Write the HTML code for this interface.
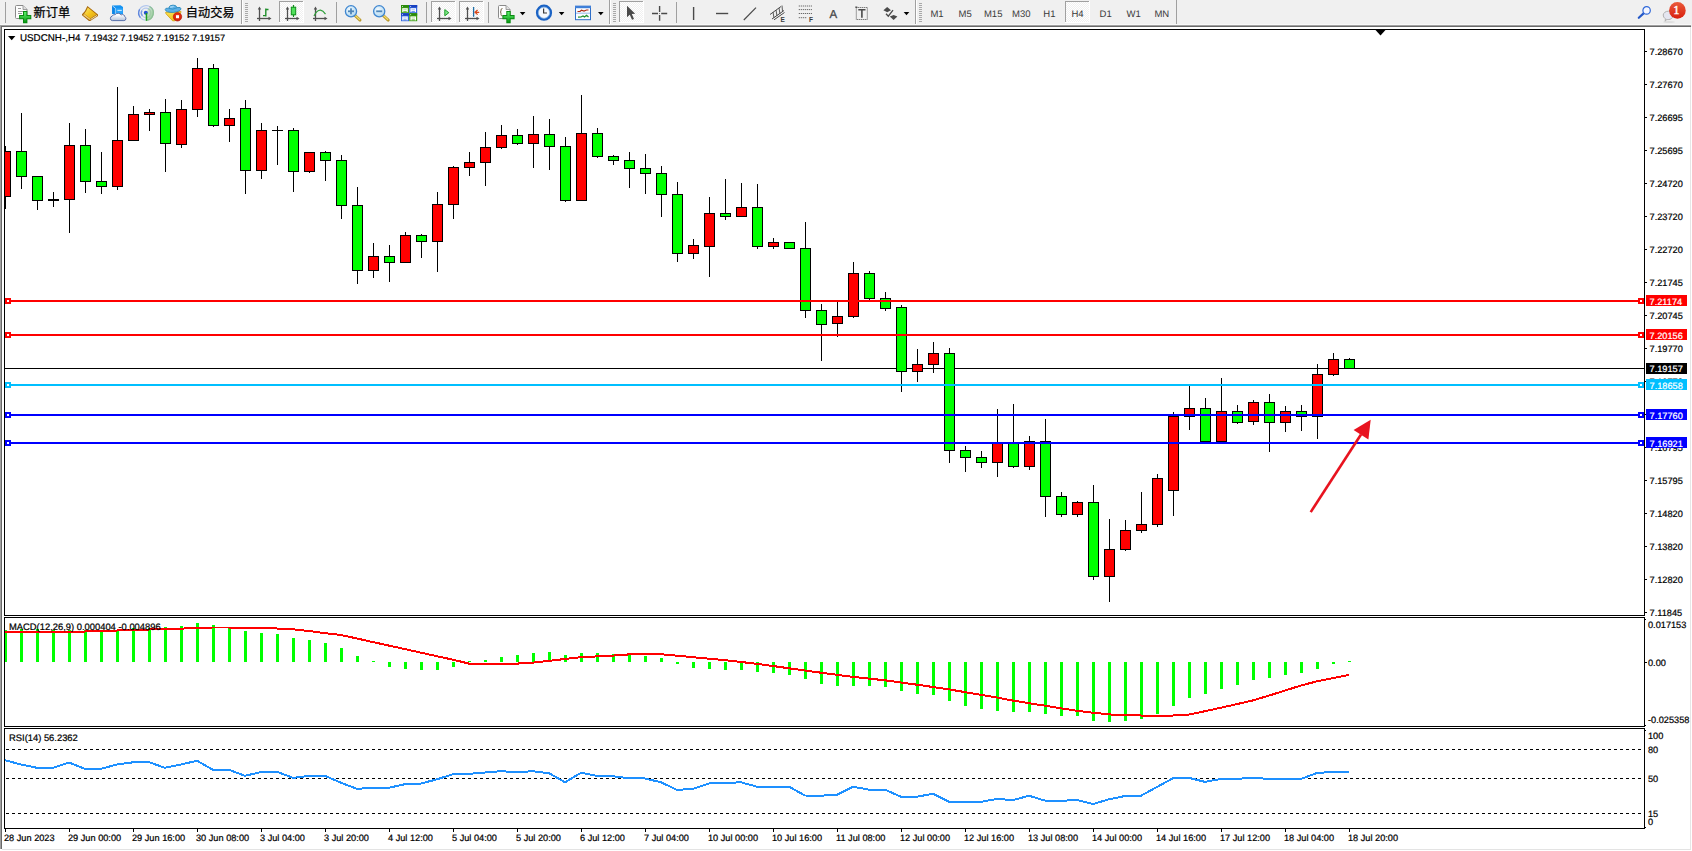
<!DOCTYPE html>
<html><head><meta charset="utf-8"><title>USDCNH H4</title>
<style>
html,body{margin:0;padding:0;background:#fff;}
body{width:1692px;height:851px;overflow:hidden;position:relative;font-family:"Liberation Sans","Noto Sans CJK SC",sans-serif;}
svg{position:absolute;left:0;top:0;}
.t{stroke:#000;stroke-width:0.22px;font-family:"Liberation Sans","Noto Sans CJK SC",sans-serif;font-size:9.8px;text-rendering:geometricPrecision;fill:#000;}
.tw{font-family:"Liberation Sans","Noto Sans CJK SC",sans-serif;font-size:9.8px;text-rendering:geometricPrecision;fill:#fff;}
.tf{font-family:"Liberation Sans","Noto Sans CJK SC",sans-serif;font-size:9.5px;text-rendering:geometricPrecision;fill:#3a3a3a;}
.ax{stroke:#000;stroke-width:0.22px;font-family:"Liberation Sans",sans-serif;font-size:9.2px;text-rendering:geometricPrecision;fill:#000;}
.axw{stroke:#fff;stroke-width:0.22px;font-family:"Liberation Sans",sans-serif;font-size:9.2px;text-rendering:geometricPrecision;fill:#fff;}
.tt{stroke:#000;stroke-width:0.22px;font-family:"Liberation Sans",sans-serif;font-size:9.4px;text-rendering:geometricPrecision;fill:#000;}
.cj{font-family:"Noto Sans CJK SC","WenQuanYi Zen Hei",sans-serif;font-size:12.2px;fill:#000;stroke:#000;stroke-width:0.25px;}
</style></head><body>

<svg width="1692" height="851" viewBox="0 0 1692 851">
<defs><pattern id="chk" width="2" height="2" patternUnits="userSpaceOnUse"><rect width="2" height="2" fill="#f0f0f0"/><rect width="1" height="1" fill="#fff"/><rect x="1" y="1" width="1" height="1" fill="#fff"/></pattern><linearGradient id="gold" x1="0" y1="0" x2="1" y2="1"><stop offset="0" stop-color="#fde870"/><stop offset="0.5" stop-color="#f4c41c"/><stop offset="1" stop-color="#dca010"/></linearGradient><linearGradient id="grn" x1="0" y1="0" x2="0" y2="1"><stop offset="0" stop-color="#5cf06a"/><stop offset="1" stop-color="#0a9a14"/></linearGradient><linearGradient id="badge" x1="0" y1="0" x2="0" y2="1"><stop offset="0" stop-color="#ea5a3a"/><stop offset="1" stop-color="#d81e0c"/></linearGradient><radialGradient id="lens" cx="0.4" cy="0.35" r="0.7"><stop offset="0" stop-color="#f4fbff"/><stop offset="1" stop-color="#a8d4f0"/></radialGradient><linearGradient id="cloud" x1="0" y1="0" x2="0" y2="1"><stop offset="0.2" stop-color="#ffffff"/><stop offset="1" stop-color="#b4c2d8"/></linearGradient><linearGradient id="sigg" x1="0" y1="0" x2="1" y2="1"><stop offset="0" stop-color="#e4f0e0"/><stop offset="1" stop-color="#3fa84a"/></linearGradient><linearGradient id="face" x1="0" y1="0" x2="0.3" y2="1"><stop offset="0" stop-color="#fbe458"/><stop offset="1" stop-color="#eec21c"/></linearGradient><radialGradient id="stop" cx="0.5" cy="0.4" r="0.6"><stop offset="0" stop-color="#f8401c"/><stop offset="1" stop-color="#cc1c08"/></radialGradient></defs>
<g shape-rendering="crispEdges">
<rect x="0" y="0" width="1692" height="851" fill="#fff" />
<rect x="0" y="0" width="1692" height="24" fill="#f0f0f0" />
<rect x="0" y="24" width="1692" height="1" fill="#f8f8f8" />
<rect x="0" y="25" width="1691" height="1" fill="#a0a0a0" />
<rect x="0" y="26" width="1691" height="1" fill="#696969" />
<rect x="1690" y="27" width="1" height="822" fill="#e6e6e6" />
<rect x="1691" y="0" width="1" height="27" fill="#f0f0f0" />
<rect x="1691" y="27" width="1" height="824" fill="#fff" />
<rect x="2" y="849" width="1689" height="1" fill="#e3e3e3" />
<rect x="0" y="850" width="1692" height="1" fill="#fff" />
<rect x="4" y="29" width="1641" height="1" fill="#000" />
<rect x="4" y="615" width="1641" height="1" fill="#000" />
<rect x="4" y="29" width="1" height="587" fill="#000" />
<rect x="1644" y="29" width="1" height="587" fill="#000" />
<rect x="4" y="617" width="1641" height="1" fill="#000" />
<rect x="4" y="726" width="1641" height="1" fill="#000" />
<rect x="4" y="617" width="1" height="110" fill="#000" />
<rect x="1644" y="617" width="1" height="110" fill="#000" />
<rect x="4" y="728" width="1641" height="1" fill="#000" />
<rect x="4" y="828" width="1641" height="1" fill="#000" />
<rect x="4" y="728" width="1" height="101" fill="#000" />
<rect x="1644" y="728" width="1" height="101" fill="#000" />
<rect x="5" y="368" width="1639" height="1" fill="#000" />
<rect x="5" y="146" width="1" height="63" fill="#000" />
<rect x="0" y="151" width="11" height="46" fill="#000" />
<rect x="1" y="152" width="9" height="44" fill="#ff0000" />
<rect x="21" y="113" width="1" height="76" fill="#000" />
<rect x="16" y="151" width="11" height="26" fill="#000" />
<rect x="17" y="152" width="9" height="24" fill="#00ff00" />
<rect x="37" y="176" width="1" height="34" fill="#000" />
<rect x="32" y="176" width="11" height="25" fill="#000" />
<rect x="33" y="177" width="9" height="23" fill="#00ff00" />
<rect x="53" y="192" width="1" height="15" fill="#000" />
<rect x="48" y="199" width="11" height="2" fill="#000" />
<rect x="69" y="123" width="1" height="110" fill="#000" />
<rect x="64" y="145" width="11" height="55" fill="#000" />
<rect x="65" y="146" width="9" height="53" fill="#ff0000" />
<rect x="85" y="129" width="1" height="64" fill="#000" />
<rect x="80" y="145" width="11" height="37" fill="#000" />
<rect x="81" y="146" width="9" height="35" fill="#00ff00" />
<rect x="101" y="152" width="1" height="42" fill="#000" />
<rect x="96" y="181" width="11" height="6" fill="#000" />
<rect x="97" y="182" width="9" height="4" fill="#00ff00" />
<rect x="117" y="87" width="1" height="103" fill="#000" />
<rect x="112" y="140" width="11" height="47" fill="#000" />
<rect x="113" y="141" width="9" height="45" fill="#ff0000" />
<rect x="133" y="106" width="1" height="35" fill="#000" />
<rect x="128" y="114" width="11" height="27" fill="#000" />
<rect x="129" y="115" width="9" height="25" fill="#ff0000" />
<rect x="149" y="109" width="1" height="22" fill="#000" />
<rect x="144" y="112" width="11" height="3" fill="#000" />
<rect x="145" y="113" width="9" height="1" fill="#ff0000" />
<rect x="165" y="99" width="1" height="73" fill="#000" />
<rect x="160" y="112" width="11" height="32" fill="#000" />
<rect x="161" y="113" width="9" height="30" fill="#00ff00" />
<rect x="181" y="100" width="1" height="48" fill="#000" />
<rect x="176" y="109" width="11" height="36" fill="#000" />
<rect x="177" y="110" width="9" height="34" fill="#ff0000" />
<rect x="197" y="58" width="1" height="59" fill="#000" />
<rect x="192" y="68" width="11" height="42" fill="#000" />
<rect x="193" y="69" width="9" height="40" fill="#ff0000" />
<rect x="213" y="64" width="1" height="63" fill="#000" />
<rect x="208" y="68" width="11" height="58" fill="#000" />
<rect x="209" y="69" width="9" height="56" fill="#00ff00" />
<rect x="229" y="109" width="1" height="33" fill="#000" />
<rect x="224" y="118" width="11" height="8" fill="#000" />
<rect x="225" y="119" width="9" height="6" fill="#ff0000" />
<rect x="245" y="100" width="1" height="94" fill="#000" />
<rect x="240" y="108" width="11" height="63" fill="#000" />
<rect x="241" y="109" width="9" height="61" fill="#00ff00" />
<rect x="261" y="123" width="1" height="56" fill="#000" />
<rect x="256" y="130" width="11" height="41" fill="#000" />
<rect x="257" y="131" width="9" height="39" fill="#ff0000" />
<rect x="277" y="126" width="1" height="39" fill="#000" />
<rect x="272" y="130" width="11" height="1" fill="#000" />
<rect x="293" y="128" width="1" height="64" fill="#000" />
<rect x="288" y="130" width="11" height="42" fill="#000" />
<rect x="289" y="131" width="9" height="40" fill="#00ff00" />
<rect x="309" y="152" width="1" height="21" fill="#000" />
<rect x="304" y="152" width="11" height="20" fill="#000" />
<rect x="305" y="153" width="9" height="18" fill="#ff0000" />
<rect x="325" y="151" width="1" height="30" fill="#000" />
<rect x="320" y="152" width="11" height="9" fill="#000" />
<rect x="321" y="153" width="9" height="7" fill="#00ff00" />
<rect x="341" y="155" width="1" height="64" fill="#000" />
<rect x="336" y="160" width="11" height="46" fill="#000" />
<rect x="337" y="161" width="9" height="44" fill="#00ff00" />
<rect x="357" y="187" width="1" height="97" fill="#000" />
<rect x="352" y="205" width="11" height="66" fill="#000" />
<rect x="353" y="206" width="9" height="64" fill="#00ff00" />
<rect x="373" y="243" width="1" height="35" fill="#000" />
<rect x="368" y="256" width="11" height="15" fill="#000" />
<rect x="369" y="257" width="9" height="13" fill="#ff0000" />
<rect x="389" y="245" width="1" height="37" fill="#000" />
<rect x="384" y="256" width="11" height="7" fill="#000" />
<rect x="385" y="257" width="9" height="5" fill="#00ff00" />
<rect x="405" y="232" width="1" height="31" fill="#000" />
<rect x="400" y="235" width="11" height="28" fill="#000" />
<rect x="401" y="236" width="9" height="26" fill="#ff0000" />
<rect x="421" y="234" width="1" height="24" fill="#000" />
<rect x="416" y="235" width="11" height="7" fill="#000" />
<rect x="417" y="236" width="9" height="5" fill="#00ff00" />
<rect x="437" y="192" width="1" height="80" fill="#000" />
<rect x="432" y="204" width="11" height="38" fill="#000" />
<rect x="433" y="205" width="9" height="36" fill="#ff0000" />
<rect x="453" y="166" width="1" height="53" fill="#000" />
<rect x="448" y="167" width="11" height="38" fill="#000" />
<rect x="449" y="168" width="9" height="36" fill="#ff0000" />
<rect x="469" y="152" width="1" height="24" fill="#000" />
<rect x="464" y="162" width="11" height="6" fill="#000" />
<rect x="465" y="163" width="9" height="4" fill="#ff0000" />
<rect x="485" y="132" width="1" height="54" fill="#000" />
<rect x="480" y="147" width="11" height="16" fill="#000" />
<rect x="481" y="148" width="9" height="14" fill="#ff0000" />
<rect x="501" y="125" width="1" height="24" fill="#000" />
<rect x="496" y="135" width="11" height="13" fill="#000" />
<rect x="497" y="136" width="9" height="11" fill="#ff0000" />
<rect x="517" y="129" width="1" height="16" fill="#000" />
<rect x="512" y="135" width="11" height="9" fill="#000" />
<rect x="513" y="136" width="9" height="7" fill="#00ff00" />
<rect x="533" y="116" width="1" height="52" fill="#000" />
<rect x="528" y="134" width="11" height="10" fill="#000" />
<rect x="529" y="135" width="9" height="8" fill="#ff0000" />
<rect x="549" y="119" width="1" height="51" fill="#000" />
<rect x="544" y="134" width="11" height="13" fill="#000" />
<rect x="545" y="135" width="9" height="11" fill="#00ff00" />
<rect x="565" y="137" width="1" height="65" fill="#000" />
<rect x="560" y="146" width="11" height="55" fill="#000" />
<rect x="561" y="147" width="9" height="53" fill="#00ff00" />
<rect x="581" y="95" width="1" height="106" fill="#000" />
<rect x="576" y="133" width="11" height="68" fill="#000" />
<rect x="577" y="134" width="9" height="66" fill="#ff0000" />
<rect x="597" y="128" width="1" height="30" fill="#000" />
<rect x="592" y="133" width="11" height="24" fill="#000" />
<rect x="593" y="134" width="9" height="22" fill="#00ff00" />
<rect x="613" y="155" width="1" height="10" fill="#000" />
<rect x="608" y="156" width="11" height="5" fill="#000" />
<rect x="609" y="157" width="9" height="3" fill="#00ff00" />
<rect x="629" y="152" width="1" height="36" fill="#000" />
<rect x="624" y="160" width="11" height="9" fill="#000" />
<rect x="625" y="161" width="9" height="7" fill="#00ff00" />
<rect x="645" y="154" width="1" height="40" fill="#000" />
<rect x="640" y="168" width="11" height="6" fill="#000" />
<rect x="641" y="169" width="9" height="4" fill="#00ff00" />
<rect x="661" y="166" width="1" height="51" fill="#000" />
<rect x="656" y="173" width="11" height="22" fill="#000" />
<rect x="657" y="174" width="9" height="20" fill="#00ff00" />
<rect x="677" y="182" width="1" height="80" fill="#000" />
<rect x="672" y="194" width="11" height="60" fill="#000" />
<rect x="673" y="195" width="9" height="58" fill="#00ff00" />
<rect x="693" y="239" width="1" height="20" fill="#000" />
<rect x="688" y="245" width="11" height="9" fill="#000" />
<rect x="689" y="246" width="9" height="7" fill="#ff0000" />
<rect x="709" y="197" width="1" height="80" fill="#000" />
<rect x="704" y="213" width="11" height="34" fill="#000" />
<rect x="705" y="214" width="9" height="32" fill="#ff0000" />
<rect x="725" y="179" width="1" height="41" fill="#000" />
<rect x="720" y="213" width="11" height="4" fill="#000" />
<rect x="721" y="214" width="9" height="2" fill="#00ff00" />
<rect x="741" y="183" width="1" height="34" fill="#000" />
<rect x="736" y="207" width="11" height="10" fill="#000" />
<rect x="737" y="208" width="9" height="8" fill="#ff0000" />
<rect x="757" y="184" width="1" height="65" fill="#000" />
<rect x="752" y="207" width="11" height="40" fill="#000" />
<rect x="753" y="208" width="9" height="38" fill="#00ff00" />
<rect x="773" y="238" width="1" height="11" fill="#000" />
<rect x="768" y="242" width="11" height="5" fill="#000" />
<rect x="769" y="243" width="9" height="3" fill="#ff0000" />
<rect x="789" y="242" width="1" height="7" fill="#000" />
<rect x="784" y="242" width="11" height="7" fill="#000" />
<rect x="785" y="243" width="9" height="5" fill="#00ff00" />
<rect x="805" y="222" width="1" height="96" fill="#000" />
<rect x="800" y="248" width="11" height="63" fill="#000" />
<rect x="801" y="249" width="9" height="61" fill="#00ff00" />
<rect x="821" y="304" width="1" height="57" fill="#000" />
<rect x="816" y="310" width="11" height="15" fill="#000" />
<rect x="817" y="311" width="9" height="13" fill="#00ff00" />
<rect x="837" y="302" width="1" height="35" fill="#000" />
<rect x="832" y="316" width="11" height="8" fill="#000" />
<rect x="833" y="317" width="9" height="6" fill="#ff0000" />
<rect x="853" y="262" width="1" height="56" fill="#000" />
<rect x="848" y="273" width="11" height="44" fill="#000" />
<rect x="849" y="274" width="9" height="42" fill="#ff0000" />
<rect x="869" y="271" width="1" height="29" fill="#000" />
<rect x="864" y="273" width="11" height="26" fill="#000" />
<rect x="865" y="274" width="9" height="24" fill="#00ff00" />
<rect x="885" y="292" width="1" height="19" fill="#000" />
<rect x="880" y="298" width="11" height="11" fill="#000" />
<rect x="881" y="299" width="9" height="9" fill="#00ff00" />
<rect x="901" y="305" width="1" height="87" fill="#000" />
<rect x="896" y="307" width="11" height="65" fill="#000" />
<rect x="897" y="308" width="9" height="63" fill="#00ff00" />
<rect x="917" y="349" width="1" height="33" fill="#000" />
<rect x="912" y="364" width="11" height="8" fill="#000" />
<rect x="913" y="365" width="9" height="6" fill="#ff0000" />
<rect x="933" y="342" width="1" height="31" fill="#000" />
<rect x="928" y="353" width="11" height="12" fill="#000" />
<rect x="929" y="354" width="9" height="10" fill="#ff0000" />
<rect x="949" y="348" width="1" height="115" fill="#000" />
<rect x="944" y="353" width="11" height="98" fill="#000" />
<rect x="945" y="354" width="9" height="96" fill="#00ff00" />
<rect x="965" y="446" width="1" height="26" fill="#000" />
<rect x="960" y="450" width="11" height="8" fill="#000" />
<rect x="961" y="451" width="9" height="6" fill="#00ff00" />
<rect x="981" y="451" width="1" height="17" fill="#000" />
<rect x="976" y="457" width="11" height="6" fill="#000" />
<rect x="977" y="458" width="9" height="4" fill="#00ff00" />
<rect x="997" y="409" width="1" height="68" fill="#000" />
<rect x="992" y="442" width="11" height="21" fill="#000" />
<rect x="993" y="443" width="9" height="19" fill="#ff0000" />
<rect x="1013" y="404" width="1" height="64" fill="#000" />
<rect x="1008" y="442" width="11" height="25" fill="#000" />
<rect x="1009" y="443" width="9" height="23" fill="#00ff00" />
<rect x="1029" y="436" width="1" height="34" fill="#000" />
<rect x="1024" y="441" width="11" height="26" fill="#000" />
<rect x="1025" y="442" width="9" height="24" fill="#ff0000" />
<rect x="1045" y="419" width="1" height="98" fill="#000" />
<rect x="1040" y="441" width="11" height="56" fill="#000" />
<rect x="1041" y="442" width="9" height="54" fill="#00ff00" />
<rect x="1061" y="492" width="1" height="25" fill="#000" />
<rect x="1056" y="496" width="11" height="19" fill="#000" />
<rect x="1057" y="497" width="9" height="17" fill="#00ff00" />
<rect x="1077" y="501" width="1" height="16" fill="#000" />
<rect x="1072" y="502" width="11" height="13" fill="#000" />
<rect x="1073" y="503" width="9" height="11" fill="#ff0000" />
<rect x="1093" y="485" width="1" height="95" fill="#000" />
<rect x="1088" y="502" width="11" height="75" fill="#000" />
<rect x="1089" y="503" width="9" height="73" fill="#00ff00" />
<rect x="1109" y="519" width="1" height="83" fill="#000" />
<rect x="1104" y="549" width="11" height="28" fill="#000" />
<rect x="1105" y="550" width="9" height="26" fill="#ff0000" />
<rect x="1125" y="520" width="1" height="31" fill="#000" />
<rect x="1120" y="530" width="11" height="20" fill="#000" />
<rect x="1121" y="531" width="9" height="18" fill="#ff0000" />
<rect x="1141" y="492" width="1" height="41" fill="#000" />
<rect x="1136" y="524" width="11" height="7" fill="#000" />
<rect x="1137" y="525" width="9" height="5" fill="#ff0000" />
<rect x="1157" y="474" width="1" height="53" fill="#000" />
<rect x="1152" y="478" width="11" height="47" fill="#000" />
<rect x="1153" y="479" width="9" height="45" fill="#ff0000" />
<rect x="1173" y="412" width="1" height="104" fill="#000" />
<rect x="1168" y="416" width="11" height="75" fill="#000" />
<rect x="1169" y="417" width="9" height="73" fill="#ff0000" />
<rect x="1189" y="386" width="1" height="44" fill="#000" />
<rect x="1184" y="408" width="11" height="9" fill="#000" />
<rect x="1185" y="409" width="9" height="7" fill="#ff0000" />
<rect x="1205" y="398" width="1" height="44" fill="#000" />
<rect x="1200" y="408" width="11" height="34" fill="#000" />
<rect x="1201" y="409" width="9" height="32" fill="#00ff00" />
<rect x="1221" y="378" width="1" height="64" fill="#000" />
<rect x="1216" y="411" width="11" height="31" fill="#000" />
<rect x="1217" y="412" width="9" height="29" fill="#ff0000" />
<rect x="1237" y="405" width="1" height="19" fill="#000" />
<rect x="1232" y="411" width="11" height="12" fill="#000" />
<rect x="1233" y="412" width="9" height="10" fill="#00ff00" />
<rect x="1253" y="400" width="1" height="25" fill="#000" />
<rect x="1248" y="402" width="11" height="20" fill="#000" />
<rect x="1249" y="403" width="9" height="18" fill="#ff0000" />
<rect x="1269" y="394" width="1" height="58" fill="#000" />
<rect x="1264" y="402" width="11" height="21" fill="#000" />
<rect x="1265" y="403" width="9" height="19" fill="#00ff00" />
<rect x="1285" y="406" width="1" height="26" fill="#000" />
<rect x="1280" y="411" width="11" height="12" fill="#000" />
<rect x="1281" y="412" width="9" height="10" fill="#ff0000" />
<rect x="1301" y="405" width="1" height="26" fill="#000" />
<rect x="1296" y="411" width="11" height="6" fill="#000" />
<rect x="1297" y="412" width="9" height="4" fill="#00ff00" />
<rect x="1317" y="364" width="1" height="75" fill="#000" />
<rect x="1312" y="374" width="11" height="43" fill="#000" />
<rect x="1313" y="375" width="9" height="41" fill="#ff0000" />
<rect x="1333" y="353" width="1" height="23" fill="#000" />
<rect x="1328" y="359" width="11" height="16" fill="#000" />
<rect x="1329" y="360" width="9" height="14" fill="#ff0000" />
<rect x="1349" y="358" width="1" height="11" fill="#000" />
<rect x="1344" y="359" width="11" height="10" fill="#000" />
<rect x="1345" y="360" width="9" height="8" fill="#00ff00" />
<rect x="2" y="27" width="2" height="822" fill="#fff" />
<rect x="4" y="29" width="1" height="587" fill="#000" />
<rect x="0" y="25" width="1" height="824" fill="#a0a0a0" />
<rect x="1" y="26" width="1" height="823" fill="#696969" />
<rect x="5" y="300" width="1639" height="2" fill="#ff0000" />
<rect x="5" y="298" width="6" height="6" fill="#ff0000" />
<rect x="7" y="300" width="2" height="2" fill="#fff" />
<rect x="1638" y="298" width="6" height="6" fill="#ff0000" />
<rect x="1640" y="300" width="2" height="2" fill="#fff" />
<rect x="5" y="334" width="1639" height="2" fill="#ff0000" />
<rect x="5" y="332" width="6" height="6" fill="#ff0000" />
<rect x="7" y="334" width="2" height="2" fill="#fff" />
<rect x="1638" y="332" width="6" height="6" fill="#ff0000" />
<rect x="1640" y="334" width="2" height="2" fill="#fff" />
<rect x="5" y="384" width="1639" height="2" fill="#00bfff" />
<rect x="5" y="382" width="6" height="6" fill="#00bfff" />
<rect x="7" y="384" width="2" height="2" fill="#fff" />
<rect x="1638" y="382" width="6" height="6" fill="#00bfff" />
<rect x="1640" y="384" width="2" height="2" fill="#fff" />
<rect x="5" y="414" width="1639" height="2" fill="#0000ff" />
<rect x="5" y="412" width="6" height="6" fill="#0000ff" />
<rect x="7" y="414" width="2" height="2" fill="#fff" />
<rect x="1638" y="412" width="6" height="6" fill="#0000ff" />
<rect x="1640" y="414" width="2" height="2" fill="#fff" />
<rect x="5" y="442" width="1639" height="2" fill="#0000ff" />
<rect x="5" y="440" width="6" height="6" fill="#0000ff" />
<rect x="7" y="442" width="2" height="2" fill="#fff" />
<rect x="1638" y="440" width="6" height="6" fill="#0000ff" />
<rect x="1640" y="442" width="2" height="2" fill="#fff" />
<rect x="1645" y="51" width="2" height="1" fill="#000" />
<rect x="1645" y="84" width="2" height="1" fill="#000" />
<rect x="1645" y="117" width="2" height="1" fill="#000" />
<rect x="1645" y="150" width="2" height="1" fill="#000" />
<rect x="1645" y="183" width="2" height="1" fill="#000" />
<rect x="1645" y="216" width="2" height="1" fill="#000" />
<rect x="1645" y="249" width="2" height="1" fill="#000" />
<rect x="1645" y="282" width="2" height="1" fill="#000" />
<rect x="1645" y="315" width="2" height="1" fill="#000" />
<rect x="1645" y="348" width="2" height="1" fill="#000" />
<rect x="1645" y="381" width="2" height="1" fill="#000" />
<rect x="1645" y="414" width="2" height="1" fill="#000" />
<rect x="1645" y="447" width="2" height="1" fill="#000" />
<rect x="1645" y="480" width="2" height="1" fill="#000" />
<rect x="1645" y="513" width="2" height="1" fill="#000" />
<rect x="1645" y="546" width="2" height="1" fill="#000" />
<rect x="1645" y="579" width="2" height="1" fill="#000" />
<rect x="1645" y="612" width="2" height="1" fill="#000" />
<rect x="4" y="630" width="3" height="32" fill="#00ff00" />
<rect x="20" y="629" width="3" height="33" fill="#00ff00" />
<rect x="36" y="629" width="3" height="33" fill="#00ff00" />
<rect x="52" y="630" width="3" height="32" fill="#00ff00" />
<rect x="68" y="630" width="3" height="32" fill="#00ff00" />
<rect x="84" y="630" width="3" height="32" fill="#00ff00" />
<rect x="100" y="630" width="3" height="32" fill="#00ff00" />
<rect x="116" y="630" width="3" height="32" fill="#00ff00" />
<rect x="132" y="628" width="3" height="34" fill="#00ff00" />
<rect x="148" y="628" width="3" height="34" fill="#00ff00" />
<rect x="164" y="627" width="3" height="35" fill="#00ff00" />
<rect x="180" y="626" width="3" height="36" fill="#00ff00" />
<rect x="196" y="623" width="3" height="39" fill="#00ff00" />
<rect x="212" y="625" width="3" height="37" fill="#00ff00" />
<rect x="228" y="627" width="3" height="35" fill="#00ff00" />
<rect x="244" y="631" width="3" height="31" fill="#00ff00" />
<rect x="260" y="633" width="3" height="29" fill="#00ff00" />
<rect x="276" y="634" width="3" height="28" fill="#00ff00" />
<rect x="292" y="638" width="3" height="24" fill="#00ff00" />
<rect x="308" y="640" width="3" height="22" fill="#00ff00" />
<rect x="324" y="643" width="3" height="19" fill="#00ff00" />
<rect x="340" y="648" width="3" height="14" fill="#00ff00" />
<rect x="356" y="656" width="3" height="6" fill="#00ff00" />
<rect x="372" y="661" width="3" height="1" fill="#00ff00" />
<rect x="388" y="662" width="3" height="5" fill="#00ff00" />
<rect x="404" y="662" width="3" height="7" fill="#00ff00" />
<rect x="420" y="662" width="3" height="8" fill="#00ff00" />
<rect x="436" y="662" width="3" height="8" fill="#00ff00" />
<rect x="452" y="662" width="3" height="5" fill="#00ff00" />
<rect x="468" y="661" width="3" height="1" fill="#00ff00" />
<rect x="484" y="660" width="3" height="2" fill="#00ff00" />
<rect x="500" y="657" width="3" height="5" fill="#00ff00" />
<rect x="516" y="655" width="3" height="7" fill="#00ff00" />
<rect x="532" y="653" width="3" height="9" fill="#00ff00" />
<rect x="548" y="652" width="3" height="10" fill="#00ff00" />
<rect x="564" y="655" width="3" height="7" fill="#00ff00" />
<rect x="580" y="653" width="3" height="9" fill="#00ff00" />
<rect x="596" y="653" width="3" height="9" fill="#00ff00" />
<rect x="612" y="654" width="3" height="8" fill="#00ff00" />
<rect x="628" y="655" width="3" height="7" fill="#00ff00" />
<rect x="644" y="656" width="3" height="6" fill="#00ff00" />
<rect x="660" y="658" width="3" height="4" fill="#00ff00" />
<rect x="676" y="662" width="3" height="2" fill="#00ff00" />
<rect x="692" y="662" width="3" height="6" fill="#00ff00" />
<rect x="708" y="662" width="3" height="7" fill="#00ff00" />
<rect x="724" y="662" width="3" height="8" fill="#00ff00" />
<rect x="740" y="662" width="3" height="8" fill="#00ff00" />
<rect x="756" y="662" width="3" height="10" fill="#00ff00" />
<rect x="772" y="662" width="3" height="11" fill="#00ff00" />
<rect x="788" y="662" width="3" height="13" fill="#00ff00" />
<rect x="804" y="662" width="3" height="17" fill="#00ff00" />
<rect x="820" y="662" width="3" height="22" fill="#00ff00" />
<rect x="836" y="662" width="3" height="24" fill="#00ff00" />
<rect x="852" y="662" width="3" height="24" fill="#00ff00" />
<rect x="868" y="662" width="3" height="24" fill="#00ff00" />
<rect x="884" y="662" width="3" height="25" fill="#00ff00" />
<rect x="900" y="662" width="3" height="29" fill="#00ff00" />
<rect x="916" y="662" width="3" height="32" fill="#00ff00" />
<rect x="932" y="662" width="3" height="33" fill="#00ff00" />
<rect x="948" y="662" width="3" height="39" fill="#00ff00" />
<rect x="964" y="662" width="3" height="44" fill="#00ff00" />
<rect x="980" y="662" width="3" height="47" fill="#00ff00" />
<rect x="996" y="662" width="3" height="49" fill="#00ff00" />
<rect x="1012" y="662" width="3" height="50" fill="#00ff00" />
<rect x="1028" y="662" width="3" height="50" fill="#00ff00" />
<rect x="1044" y="662" width="3" height="52" fill="#00ff00" />
<rect x="1060" y="662" width="3" height="54" fill="#00ff00" />
<rect x="1076" y="662" width="3" height="54" fill="#00ff00" />
<rect x="1092" y="662" width="3" height="59" fill="#00ff00" />
<rect x="1108" y="662" width="3" height="60" fill="#00ff00" />
<rect x="1124" y="662" width="3" height="59" fill="#00ff00" />
<rect x="1140" y="662" width="3" height="57" fill="#00ff00" />
<rect x="1156" y="662" width="3" height="52" fill="#00ff00" />
<rect x="1172" y="662" width="3" height="44" fill="#00ff00" />
<rect x="1188" y="662" width="3" height="36" fill="#00ff00" />
<rect x="1204" y="662" width="3" height="32" fill="#00ff00" />
<rect x="1220" y="662" width="3" height="27" fill="#00ff00" />
<rect x="1236" y="662" width="3" height="23" fill="#00ff00" />
<rect x="1252" y="662" width="3" height="18" fill="#00ff00" />
<rect x="1268" y="662" width="3" height="16" fill="#00ff00" />
<rect x="1284" y="662" width="3" height="13" fill="#00ff00" />
<rect x="1300" y="662" width="3" height="11" fill="#00ff00" />
<rect x="1316" y="662" width="3" height="7" fill="#00ff00" />
<rect x="1332" y="662" width="3" height="2" fill="#00ff00" />
<rect x="1348" y="661" width="3" height="1" fill="#00ff00" />
<rect x="2" y="618" width="2" height="108" fill="#fff" />
<rect x="4" y="617" width="1" height="110" fill="#000" />
<rect x="1645" y="619" width="1" height="1" fill="#000" />
<rect x="1645" y="662" width="2" height="1" fill="#000" />
<rect x="1645" y="725" width="1" height="1" fill="#000" />
<line x1="6" y1="749.5" x2="1644" y2="749.5" stroke="#000" stroke-width="1" stroke-dasharray="3,3"/>
<line x1="6" y1="778.5" x2="1644" y2="778.5" stroke="#000" stroke-width="1" stroke-dasharray="3,3"/>
<line x1="6" y1="813.5" x2="1644" y2="813.5" stroke="#000" stroke-width="1" stroke-dasharray="3,3"/>
<rect x="1645" y="730" width="1" height="1" fill="#000" />
<rect x="1645" y="827" width="1" height="1" fill="#000" />
<rect x="5" y="829" width="1" height="3" fill="#000" />
<rect x="69" y="829" width="1" height="3" fill="#000" />
<rect x="133" y="829" width="1" height="3" fill="#000" />
<rect x="197" y="829" width="1" height="3" fill="#000" />
<rect x="261" y="829" width="1" height="3" fill="#000" />
<rect x="325" y="829" width="1" height="3" fill="#000" />
<rect x="389" y="829" width="1" height="3" fill="#000" />
<rect x="453" y="829" width="1" height="3" fill="#000" />
<rect x="517" y="829" width="1" height="3" fill="#000" />
<rect x="581" y="829" width="1" height="3" fill="#000" />
<rect x="645" y="829" width="1" height="3" fill="#000" />
<rect x="709" y="829" width="1" height="3" fill="#000" />
<rect x="773" y="829" width="1" height="3" fill="#000" />
<rect x="837" y="829" width="1" height="3" fill="#000" />
<rect x="901" y="829" width="1" height="3" fill="#000" />
<rect x="965" y="829" width="1" height="3" fill="#000" />
<rect x="1029" y="829" width="1" height="3" fill="#000" />
<rect x="1093" y="829" width="1" height="3" fill="#000" />
<rect x="1157" y="829" width="1" height="3" fill="#000" />
<rect x="1221" y="829" width="1" height="3" fill="#000" />
<rect x="1285" y="829" width="1" height="3" fill="#000" />
<rect x="1349" y="829" width="1" height="3" fill="#000" />
<polygon points="1375.5,30 1385.5,30 1380.5,35.5" fill="#000" shape-rendering="auto"/>
</g>
<polyline points="5,632 21,632 37,632 53,632 69,632 85,631.5 101,631 117,630.5 133,630 149,629.5 165,629 181,628.7 197,627.8 213,627.5 229,627.5 245,627.5 261,627.6 277,628.5 293,629.3 309,631 325,633.2 341,635 357,638.5 373,642.1 389,645.6 405,649.1 421,652.7 437,656.2 453,659.7 469,663.6 485,663.6 501,663.6 517,663.6 533,662.6 549,660.8 565,659 581,657.2 597,656.4 613,655.6 629,654.4 645,654.2 661,654.2 677,655.7 693,657.2 709,658.7 725,660.2 741,662 757,663.8 773,666 789,668.3 805,670.5 821,672.7 837,674.8 853,676.9 869,678.6 885,680.3 901,682.5 917,684.7 933,687 949,689.4 965,692.1 981,694.8 997,697.5 1013,700.6 1029,703.2 1045,705.7 1061,708.3 1077,710.8 1093,712.7 1109,714.4 1125,715.4 1141,715.5 1157,715.5 1173,715.5 1189,714.5 1205,711.2 1221,707.7 1237,704.1 1253,700.4 1269,695.6 1285,690.5 1301,685.5 1317,681.3 1333,678.2 1349,674.8" fill="none" stroke="#ff0000" stroke-width="2" stroke-linejoin="round" shape-rendering="crispEdges"/>
<polyline points="5,760.2 21,764.5 37,767.8 53,767.8 69,762.6 85,768.8 101,768.8 117,764.5 133,762.3 149,762.2 165,767.8 181,764.5 197,760.8 213,769.8 229,769.8 245,775.8 261,772 277,771.8 293,777.9 309,775.8 325,775.8 341,782.8 357,788.9 373,787.7 389,787.7 405,784.2 421,783.5 437,779.3 453,774.2 469,773.8 485,772.5 501,771.2 517,772.2 533,771.2 549,773.2 565,782.3 581,772.8 597,775.8 613,776.3 629,778.3 645,778.5 661,782.3 677,789.9 693,788.9 709,783.5 725,783 741,782.3 757,786.7 773,786.7 789,786.7 805,795.5 821,795.7 837,794.7 853,786.7 869,789.7 885,789.7 901,796.7 917,796.7 933,793.8 949,801.8 965,801.8 981,801.8 997,799 1013,800 1029,795.8 1045,800.6 1061,800.8 1077,800 1093,804 1109,799.3 1125,796 1141,795.7 1157,787 1173,778.2 1189,777.9 1205,781.9 1221,778.9 1237,778.8 1253,777.9 1269,778.9 1285,778.9 1301,778.9 1317,773 1333,771.8 1349,771.8" fill="none" stroke="#1e90ff" stroke-width="2" stroke-linejoin="round" shape-rendering="crispEdges"/>
<line x1="1310.7" y1="512.1" x2="1361" y2="434.5" stroke="#e8131f" stroke-width="2.6"/>
<polygon points="1370.7,419.7 1353.6,430 1368.4,439.5" fill="#e8131f"/>
<text x="1649.6" y="55" class="ax" >7.28670</text>
<text x="1649.6" y="88" class="ax" >7.27670</text>
<text x="1649.6" y="121" class="ax" >7.26695</text>
<text x="1649.6" y="154" class="ax" >7.25695</text>
<text x="1649.6" y="187" class="ax" >7.24720</text>
<text x="1649.6" y="220" class="ax" >7.23720</text>
<text x="1649.6" y="253" class="ax" >7.22720</text>
<text x="1649.6" y="286" class="ax" >7.21745</text>
<text x="1649.6" y="319" class="ax" >7.20745</text>
<text x="1649.6" y="352" class="ax" >7.19770</text>
<text x="1649.6" y="385" class="ax" >7.18770</text>
<text x="1649.6" y="418" class="ax" >7.17795</text>
<text x="1649.6" y="451" class="ax" >7.16795</text>
<text x="1649.6" y="484" class="ax" >7.15795</text>
<text x="1649.6" y="517" class="ax" >7.14820</text>
<text x="1649.6" y="550" class="ax" >7.13820</text>
<text x="1649.6" y="583" class="ax" >7.12820</text>
<text x="1649.6" y="616" class="ax" >7.11845</text>
<g shape-rendering="crispEdges">
<rect x="1646" y="295" width="41" height="11" fill="#ff0000" />
<rect x="1646" y="329" width="41" height="11" fill="#ff0000" />
<rect x="1646" y="379" width="41" height="11" fill="#00bfff" />
<rect x="1646" y="409" width="41" height="11" fill="#0000ff" />
<rect x="1646" y="437" width="41" height="11" fill="#0000ff" />
<rect x="1646" y="363" width="41" height="11" fill="#000" />
</g>
<text x="1649.6" y="305" class="axw" >7.21174</text>
<text x="1649.6" y="339" class="axw" >7.20156</text>
<text x="1649.6" y="389" class="axw" >7.18658</text>
<text x="1649.6" y="419" class="axw" >7.17760</text>
<text x="1649.6" y="447" class="axw" >7.16921</text>
<text x="1649.6" y="372" class="axw" >7.19157</text>
<text x="1648" y="628" class="ax" >0.017153</text>
<text x="1648" y="666" class="ax" >0.00</text>
<text x="1648" y="723" class="ax" >-0.025358</text>
<text x="1648" y="739" class="ax" >100</text>
<text x="1648" y="753" class="ax" >80</text>
<text x="1648" y="782" class="ax" >50</text>
<text x="1648" y="817" class="ax" >15</text>
<text x="1648" y="825" class="ax" >0</text>
<text x="4" y="841" class="ax" >28 Jun 2023</text>
<text x="68" y="841" class="ax" >29 Jun 00:00</text>
<text x="132" y="841" class="ax" >29 Jun 16:00</text>
<text x="196" y="841" class="ax" >30 Jun 08:00</text>
<text x="260" y="841" class="ax" >3 Jul 04:00</text>
<text x="324" y="841" class="ax" >3 Jul 20:00</text>
<text x="388" y="841" class="ax" >4 Jul 12:00</text>
<text x="452" y="841" class="ax" >5 Jul 04:00</text>
<text x="516" y="841" class="ax" >5 Jul 20:00</text>
<text x="580" y="841" class="ax" >6 Jul 12:00</text>
<text x="644" y="841" class="ax" >7 Jul 04:00</text>
<text x="708" y="841" class="ax" >10 Jul 00:00</text>
<text x="772" y="841" class="ax" >10 Jul 16:00</text>
<text x="836" y="841" class="ax" >11 Jul 08:00</text>
<text x="900" y="841" class="ax" >12 Jul 00:00</text>
<text x="964" y="841" class="ax" >12 Jul 16:00</text>
<text x="1028" y="841" class="ax" >13 Jul 08:00</text>
<text x="1092" y="841" class="ax" >14 Jul 00:00</text>
<text x="1156" y="841" class="ax" >14 Jul 16:00</text>
<text x="1220" y="841" class="ax" >17 Jul 12:00</text>
<text x="1284" y="841" class="ax" >18 Jul 04:00</text>
<text x="1348" y="841" class="ax" >18 Jul 20:00</text>
<polygon points="8,36 15.4,36 11.7,40.2" fill="#000"/>
<text x="20" y="41" class="t" >USDCNH-,H4</text>
<text x="84.6" y="41" class="ax" >7.19432 7.19452 7.19152 7.19157</text>
<text x="9" y="630" class="tt" >MACD(12,26,9) 0.000404 -0.004896</text>
<text x="9" y="741" class="tt" >RSI(14) 56.2362</text>
<rect x="5" y="2" width="1" height="21" fill="#a0a0a0" shape-rendering="crispEdges"/>
<path d="M16.5,5.5 h6.5 l4,4 v8 a1,1 0 0 1 -1,1 h-9.5 a1,1 0 0 1 -1,-1 v-11 a1,1 0 0 1 1,-1z" fill="#fdfdfd" stroke="#8a8a8a" stroke-width="1"/><path d="M23.0,5.5 v4 h4" fill="#e0e0e0" stroke="#8a8a8a" stroke-width="0.8"/>
<g stroke="#9a9a9a" stroke-width="1" shape-rendering="crispEdges"><line x1="18" y1="8.5" x2="21" y2="8.5"/><line x1="18" y1="11.5" x2="24" y2="11.5"/><line x1="18" y1="13.5" x2="22" y2="13.5"/></g>
<path d="M23,11 h4.4 v3.9 h3.9 v4.4 h-3.9 v3.9 h-4.4 v-3.9 h-3.9 v-4.4 h3.9z" fill="#0a8a12"/><path d="M24,12 h2.4 v3.9 h3.9 v2.4 h-3.9 v3.9 h-2.4 v-3.9 h-3.9 v-2.4 h3.9z" fill="url(#grn)"/>
<text x="33.6" y="17.2" class="cj">新订单</text>
<path d="M87.4,6 L98,14.6 L98,15.9 L90.2,21 L89,21 L82,15.3 L82,14.3 Q85.6,11 87.4,6z" fill="#a8680c"/><path d="M87.8,7.4 L96.6,14.5 L90.3,18.6 L84.2,13.8 Q86.5,11 87.8,7.4z" fill="url(#gold)"/><path d="M83,14.9 L84.1,14 L90.2,18.8 L89.7,20.1z" fill="#f2d070"/><path d="M90.5,19 L96.9,14.9 L97.2,15.7 L90.5,20.1z" fill="#efe6b8"/>
<path d="M112.2,5.6 L120.5,5.2 L123,7 L123,14 L112.2,14z" fill="#1593f2"/><path d="M112.2,5.6 L115.4,8.2 L115.4,14 L112.2,14z" fill="#0b84e6"/><path d="M112.6,6 L115.4,8.2 V14" fill="none" stroke="#e8f4ff" stroke-width="0.7"/><rect x="115.8" y="8.4" width="7" height="5" fill="#2ba4fa"/><rect x="117.4" y="9.9" width="4.4" height="0.8" fill="#fff"/>
<path d="M112.3,20.6 Q110.4,20.5 110.4,18.4 Q110.4,16.4 112.4,16 Q113,14.3 115.1,14.7 Q116.3,13.1 118.3,13.3 Q120.4,13.4 121.1,15 Q122.6,14.1 123.9,15 Q125,15.8 124.9,16.8 Q126,17.4 125.9,18.8 Q125.7,20.6 123.9,20.6Z" fill="url(#cloud)" stroke="#4a64a4" stroke-width="0.9"/>
<path d="M146,12.9 L149.6,5.9 A7.9,7.9 0 0 1 146,20.8z" fill="url(#sigg)" opacity="0.6"/>
<g fill="none" stroke-width="1.3"><circle cx="146" cy="12.9" r="7.3" stroke="#b4c8ee" stroke-dasharray="30 16" transform="rotate(95 146 12.9)"/><circle cx="146" cy="12.9" r="4.7" stroke="#b4c8ee" stroke-dasharray="19 11" transform="rotate(95 146 12.9)"/><path d="M149.5,6.5 A7.3,7.3 0 0 1 146.5,20.2" stroke="#8fc096"/><path d="M148.2,8.8 A4.7,4.7 0 0 1 146.5,17.6" stroke="#a4cca8"/><path d="M139.6,9.4 A7.3,7.3 0 0 0 140.4,17.6" stroke="#5f86dc"/><path d="M141.9,10.6 A4.7,4.7 0 0 0 142.4,15.9" stroke="#7a9ae4"/></g><circle cx="145.8" cy="12.8" r="2" fill="#2454d4"/><rect x="145.7" y="13" width="1.5" height="7.8" fill="#1fa01f"/>
<path d="M165.6,12.3 L181,11.4 L180.7,13 L174.9,20.8 L172.6,20.8 L166,13.8z" fill="url(#face)" stroke="#d0a010" stroke-width="0.8"/><path d="M165.2,9.6 Q165,7.8 168.6,8.2 Q169.4,5 173,5.1 Q176.4,5 177,7.6 Q181,6.8 181,8.8 Q180.6,11.4 173.4,12.4 Q165.8,12.6 165.2,9.6z" fill="#5cb0e6" stroke="#2484b8" stroke-width="0.8"/><path d="M168.8,8.4 Q172.6,10.2 177,7.8" fill="none" stroke="#2c8cc0" stroke-width="0.8"/><path d="M170,6.6 Q172,5.6 174.6,5.9 Q173,7.6 170.2,8z" fill="#9cd4f6"/><circle cx="177.5" cy="16.8" r="4.2" fill="url(#stop)" stroke="#b41c08" stroke-width="0.7"/><rect x="176" y="15.2" width="3" height="3" fill="#fff"/>
<text x="185.8" y="17.2" class="cj">自动交易</text>
<rect x="241" y="0" width="1" height="24" fill="#a0a0a0" shape-rendering="crispEdges"/><rect x="242" y="0" width="1" height="24" fill="#fff" shape-rendering="crispEdges"/>
<rect x="245" y="3" width="3" height="1" fill="#a8a8a8" shape-rendering="crispEdges"/>
<rect x="245" y="5" width="3" height="1" fill="#a8a8a8" shape-rendering="crispEdges"/>
<rect x="245" y="7" width="3" height="1" fill="#a8a8a8" shape-rendering="crispEdges"/>
<rect x="245" y="9" width="3" height="1" fill="#a8a8a8" shape-rendering="crispEdges"/>
<rect x="245" y="11" width="3" height="1" fill="#a8a8a8" shape-rendering="crispEdges"/>
<rect x="245" y="13" width="3" height="1" fill="#a8a8a8" shape-rendering="crispEdges"/>
<rect x="245" y="15" width="3" height="1" fill="#a8a8a8" shape-rendering="crispEdges"/>
<rect x="245" y="17" width="3" height="1" fill="#a8a8a8" shape-rendering="crispEdges"/>
<rect x="245" y="19" width="3" height="1" fill="#a8a8a8" shape-rendering="crispEdges"/>
<rect x="245" y="21" width="3" height="1" fill="#a8a8a8" shape-rendering="crispEdges"/>
<g stroke="#505050" stroke-width="1.3" fill="#505050"><line x1="259.5" y1="8" x2="259.5" y2="21"/><line x1="257" y1="18.5" x2="270" y2="18.5"/><polygon points="259.5,6.5 257.8,9.5 261.2,9.5" stroke="none"/><polygon points="271.5,18.5 268.5,16.8 268.5,20.2" stroke="none"/></g>
<g stroke="#1f8f2a" stroke-width="1.4" fill="none"><path d="M265.8,8.5 V16.5 M265.8,9.5 H268.5 M265.8,15.6 H263"/></g>
<g shape-rendering="crispEdges"><rect x="279" y="1" width="25" height="22" fill="url(#chk)"/><rect x="279" y="1" width="25" height="1" fill="#a0a0a0"/><rect x="279" y="1" width="1" height="22" fill="#a0a0a0"/><rect x="279" y="22" width="25" height="1" fill="#fff"/><rect x="303" y="1" width="1" height="22" fill="#fff"/></g>
<g stroke="#505050" stroke-width="1.3" fill="#505050"><line x1="287.5" y1="8" x2="287.5" y2="21"/><line x1="285" y1="18.5" x2="298" y2="18.5"/><polygon points="287.5,6.5 285.8,9.5 289.2,9.5" stroke="none"/><polygon points="299.5,18.5 296.5,16.8 296.5,20.2" stroke="none"/></g>
<line x1="293.5" y1="5" x2="293.5" y2="17" stroke="#0f8f1a" stroke-width="1.2"/><rect x="291.3" y="7.2" width="4.4" height="7.6" fill="#4fe05a" stroke="#0f8f1a" stroke-width="1"/>
<g stroke="#505050" stroke-width="1.3" fill="#505050"><line x1="315.5" y1="8" x2="315.5" y2="21"/><line x1="313" y1="18.5" x2="326" y2="18.5"/><polygon points="315.5,6.5 313.8,9.5 317.2,9.5" stroke="none"/><polygon points="327.5,18.5 324.5,16.8 324.5,20.2" stroke="none"/></g>
<path d="M314,16 Q317,10 320.5,10.2 Q323,10.5 325.5,14.2" fill="none" stroke="#2f9f3a" stroke-width="1.2"/>
<rect x="336" y="2" width="1" height="21" fill="#a0a0a0" shape-rendering="crispEdges"/>
<line x1="355" y1="15.5" x2="360" y2="20.1" stroke="#b8962a" stroke-width="3" stroke-linecap="round"/><line x1="355.3" y1="15.5" x2="359.6" y2="19.5" stroke="#f2dc6a" stroke-width="1.2" stroke-linecap="round"/><circle cx="351" cy="11.3" r="5.6" fill="url(#lens)" stroke="#3f86d0" stroke-width="1.3"/>
<rect x="348" y="10.4" width="6" height="1.8" fill="#4f86b8"/>
<rect x="350.1" y="8.3" width="1.8" height="6" fill="#4f86b8"/>
<line x1="383.2" y1="15.5" x2="388.2" y2="20.1" stroke="#b8962a" stroke-width="3" stroke-linecap="round"/><line x1="383.5" y1="15.5" x2="387.8" y2="19.5" stroke="#f2dc6a" stroke-width="1.2" stroke-linecap="round"/><circle cx="379.2" cy="11.3" r="5.6" fill="url(#lens)" stroke="#3f86d0" stroke-width="1.3"/>
<rect x="376.2" y="10.4" width="6" height="1.8" fill="#4f86b8"/>
<rect x="401" y="5" width="8" height="8" fill="#3f9f14"/><rect x="401" y="5" width="8" height="2.4" fill="#2a8a0c"/><rect x="402" y="6" width="0.9" height="0.9" fill="#fff" opacity="0.9"/><rect x="402.2" y="8.2" width="5.6" height="4" fill="#fff"/><rect x="403.3" y="9.3" width="3.4" height="0.9" fill="#a8d890"/><rect x="403.3" y="11.3" width="3.4" height="0.9" fill="#3f9f14"/>
<rect x="409.2" y="5" width="8" height="8" fill="#3468e0"/><rect x="409.2" y="5" width="8" height="2.4" fill="#1840c0"/><rect x="410.2" y="6" width="0.9" height="0.9" fill="#fff" opacity="0.9"/><rect x="410.4" y="8.2" width="5.6" height="4" fill="#fff"/><rect x="411.5" y="9.3" width="3.4" height="0.9" fill="#a0b8f4"/><rect x="411.5" y="11.3" width="3.4" height="0.9" fill="#3468e0"/>
<rect x="401" y="13.2" width="8" height="8" fill="#3468e0"/><rect x="401" y="13.2" width="8" height="2.4" fill="#1840c0"/><rect x="402" y="14.2" width="0.9" height="0.9" fill="#fff" opacity="0.9"/><rect x="402.2" y="16.4" width="5.6" height="4" fill="#fff"/><rect x="403.3" y="17.5" width="3.4" height="0.9" fill="#a0b8f4"/><rect x="403.3" y="19.5" width="3.4" height="0.9" fill="#3468e0"/>
<rect x="409.2" y="13.2" width="8" height="8" fill="#3f9f14"/><rect x="409.2" y="13.2" width="8" height="2.4" fill="#2a8a0c"/><rect x="410.2" y="14.2" width="0.9" height="0.9" fill="#fff" opacity="0.9"/><rect x="410.4" y="16.4" width="5.6" height="4" fill="#fff"/><rect x="411.5" y="17.5" width="3.4" height="0.9" fill="#a8d890"/><rect x="411.5" y="19.5" width="3.4" height="0.9" fill="#3f9f14"/>
<rect x="426" y="2" width="1" height="21" fill="#a0a0a0" shape-rendering="crispEdges"/>
<g shape-rendering="crispEdges"><rect x="431" y="1" width="25" height="22" fill="url(#chk)"/><rect x="431" y="1" width="25" height="1" fill="#a0a0a0"/><rect x="431" y="1" width="1" height="22" fill="#a0a0a0"/><rect x="431" y="22" width="25" height="1" fill="#fff"/><rect x="455" y="1" width="1" height="22" fill="#fff"/></g>
<g stroke="#505050" stroke-width="1.3" fill="#505050"><line x1="439.5" y1="8" x2="439.5" y2="21"/><line x1="437" y1="18.5" x2="450" y2="18.5"/><polygon points="439.5,6.5 437.8,9.5 441.2,9.5" stroke="none"/><polygon points="451.5,18.5 448.5,16.8 448.5,20.2" stroke="none"/></g>
<polygon points="444.8,9.6 444.8,15.8 448.8,12.7" fill="#7fe888" stroke="#1f9f2a" stroke-width="1"/>
<g shape-rendering="crispEdges"><rect x="459" y="1" width="25" height="22" fill="url(#chk)"/><rect x="459" y="1" width="25" height="1" fill="#a0a0a0"/><rect x="459" y="1" width="1" height="22" fill="#a0a0a0"/><rect x="459" y="22" width="25" height="1" fill="#fff"/><rect x="483" y="1" width="1" height="22" fill="#fff"/></g>
<g stroke="#505050" stroke-width="1.3" fill="#505050"><line x1="467.5" y1="8" x2="467.5" y2="21"/><line x1="465" y1="18.5" x2="478" y2="18.5"/><polygon points="467.5,6.5 465.8,9.5 469.2,9.5" stroke="none"/><polygon points="479.5,18.5 476.5,16.8 476.5,20.2" stroke="none"/></g>
<line x1="473.6" y1="7" x2="473.6" y2="16.8" stroke="#1f6fa8" stroke-width="1.3"/><path d="M479.2,12.3 H475.2 M477.6,10 L475,12.3 L477.6,14.6" stroke="#d8481a" stroke-width="1.2" fill="none"/>
<rect x="488" y="2" width="1" height="21" fill="#a0a0a0" shape-rendering="crispEdges"/>
<path d="M499.5,5.5 h6.5 l4,4 v8 a1,1 0 0 1 -1,1 h-9.5 a1,1 0 0 1 -1,-1 v-11 a1,1 0 0 1 1,-1z" fill="#fdfdfd" stroke="#8a8a8a" stroke-width="1"/><path d="M506.0,5.5 v4 h4" fill="#e0e0e0" stroke="#8a8a8a" stroke-width="0.8"/>
<path d="M502.5,8.5 q-1.5,0 -1.5,1.5 v1 q0,1 -1,1 q1,0 1,1 v1.5 q0,1.5 1.5,1.5" fill="none" stroke="#6a5a3a" stroke-width="0.9"/>
<path d="M506.3,11 h4.4 v3.9 h3.9 v4.4 h-3.9 v3.9 h-4.4 v-3.9 h-3.9 v-4.4 h3.9z" fill="#0a8a12"/><path d="M507.3,12 h2.4 v3.9 h3.9 v2.4 h-3.9 v3.9 h-2.4 v-3.9 h-3.9 v-2.4 h3.9z" fill="url(#grn)"/>
<polygon points="519.8,12 525.4,12 522.5999999999999,15.2" fill="#000"/>
<circle cx="544" cy="12.7" r="6.8" fill="#f4f8fc" stroke="#1a62c4" stroke-width="2.6"/><circle cx="544" cy="12.7" r="5.6" fill="none" stroke="#9fc4ea" stroke-width="0.8"/><path d="M543.6,8.6 V13 H547" fill="none" stroke="#3a3a3a" stroke-width="1.2"/>
<polygon points="558.8,12 564.4,12 561.5999999999999,15.2" fill="#000"/>
<rect x="575.5" y="6.3" width="15" height="13.4" fill="#fafcff" stroke="#2f6fc8" stroke-width="1"/><rect x="575" y="5.8" width="16" height="2.4" fill="#3f7fd8"/><line x1="576" y1="13.2" x2="590" y2="13.2" stroke="#7fa8e0" stroke-width="0.8"/><polyline points="577.5,11.5 580,11.5 581.5,10.2 584,11 586.5,10 588.5,10" fill="none" stroke="#b02810" stroke-width="1.2"/><polyline points="578,17.2 581,17 583,16 584.5,17 586.5,15.2 588.5,17" fill="none" stroke="#1f8f2a" stroke-width="1.2"/>
<polygon points="598,12 603.6,12 600.8,15.2" fill="#000"/>
<rect x="609" y="0" width="1" height="24" fill="#a0a0a0" shape-rendering="crispEdges"/><rect x="610" y="0" width="1" height="24" fill="#fff" shape-rendering="crispEdges"/>
<rect x="613" y="3" width="3" height="1" fill="#a8a8a8" shape-rendering="crispEdges"/>
<rect x="613" y="5" width="3" height="1" fill="#a8a8a8" shape-rendering="crispEdges"/>
<rect x="613" y="7" width="3" height="1" fill="#a8a8a8" shape-rendering="crispEdges"/>
<rect x="613" y="9" width="3" height="1" fill="#a8a8a8" shape-rendering="crispEdges"/>
<rect x="613" y="11" width="3" height="1" fill="#a8a8a8" shape-rendering="crispEdges"/>
<rect x="613" y="13" width="3" height="1" fill="#a8a8a8" shape-rendering="crispEdges"/>
<rect x="613" y="15" width="3" height="1" fill="#a8a8a8" shape-rendering="crispEdges"/>
<rect x="613" y="17" width="3" height="1" fill="#a8a8a8" shape-rendering="crispEdges"/>
<rect x="613" y="19" width="3" height="1" fill="#a8a8a8" shape-rendering="crispEdges"/>
<rect x="613" y="21" width="3" height="1" fill="#a8a8a8" shape-rendering="crispEdges"/>
<g shape-rendering="crispEdges"><rect x="619" y="1" width="25" height="22" fill="url(#chk)"/><rect x="619" y="1" width="25" height="1" fill="#a0a0a0"/><rect x="619" y="1" width="1" height="22" fill="#a0a0a0"/><rect x="619" y="22" width="25" height="1" fill="#fff"/><rect x="643" y="1" width="1" height="22" fill="#fff"/></g>
<path d="M627,5.8 L627,17.2 L629.8,14.8 L632,19.8 L634,18.9 L631.8,14 L635.2,13.8z" fill="#4a4a4a"/>
<g stroke="#4a4a4a" stroke-width="1.4"><path d="M652,13.5 H658 M661.2,13.5 H667.2 M659.6,6 V12 M659.6,15 V20.8"/></g><rect x="659.2" y="13.1" width="0.8" height="0.8" fill="#4a4a4a"/>
<rect x="676" y="2" width="1" height="21" fill="#a0a0a0" shape-rendering="crispEdges"/>
<g stroke="#4a4a4a" stroke-width="1.4"><line x1="693.6" y1="7" x2="693.6" y2="20"/><line x1="716" y1="13.5" x2="728.2" y2="13.5"/><line x1="743.8" y1="20" x2="756" y2="7.7" stroke-width="1.2"/></g>
<g stroke="#4a4a4a" stroke-width="1" fill="none"><line x1="770" y1="14.5" x2="781" y2="6.5"/><line x1="772" y1="19" x2="784" y2="10.5"/><line x1="774" y1="19.8" x2="784.5" y2="12.5"/><path d="M773,12 l1,6 M776,10 l1,6 M779,8 l1,6 M782,5.5 l0.5,6" stroke-width="0.9"/></g>
<text x="780.6" y="22" style="font-family:'Liberation Sans',sans-serif;font-size:6.5px;font-weight:bold;fill:#3a3a3a">E</text>
<line x1="798.8" y1="6" x2="812.5" y2="6" stroke="#4a4a4a" stroke-width="1" stroke-dasharray="1,1"/>
<line x1="798.8" y1="9.6" x2="812.5" y2="9.6" stroke="#4a4a4a" stroke-width="1" stroke-dasharray="1,1"/>
<line x1="798.8" y1="13.5" x2="812.5" y2="13.5" stroke="#4a4a4a" stroke-width="1" stroke-dasharray="1,1"/>
<line x1="798.8" y1="17.7" x2="807" y2="17.7" stroke="#4a4a4a" stroke-width="1" stroke-dasharray="1,1"/>
<text x="809" y="22" style="font-family:'Liberation Sans',sans-serif;font-size:6.5px;font-weight:bold;fill:#3a3a3a">F</text>
<text x="829.6" y="17.7" style="font-family:'Liberation Sans',sans-serif;font-size:11.5px;fill:#4a4a4a;text-rendering:geometricPrecision" stroke="#4a4a4a" stroke-width="0.3">A</text>
<rect x="856.3" y="7.5" width="11" height="12" fill="none" stroke="#4a4a4a" stroke-width="1" stroke-dasharray="1,1"/><rect x="855.3" y="6.5" width="2" height="1.4" fill="#4a4a4a"/><path d="M858.3,9.8 H865.5 M861.9,9.8 V17.7" stroke="#4a4a4a" stroke-width="1.6" fill="none"/>
<polygon points="887.2,7 891,10.3 887.2,12.2 883.4,10.3" fill="#4a4a4a"/><polygon points="893.6,20 897.4,16.6 893.6,14.9 889.8,16.6" fill="#4a4a4a"/><path d="M886,13.8 L888.3,16.2 L893,10.2" fill="none" stroke="#4a4a4a" stroke-width="1.3"/>
<polygon points="903.7,12 909.3000000000001,12 906.5,15.2" fill="#000"/>
<rect x="915" y="0" width="1" height="24" fill="#a0a0a0" shape-rendering="crispEdges"/><rect x="916" y="0" width="1" height="24" fill="#fff" shape-rendering="crispEdges"/>
<rect x="919" y="3" width="3" height="1" fill="#a8a8a8" shape-rendering="crispEdges"/>
<rect x="919" y="5" width="3" height="1" fill="#a8a8a8" shape-rendering="crispEdges"/>
<rect x="919" y="7" width="3" height="1" fill="#a8a8a8" shape-rendering="crispEdges"/>
<rect x="919" y="9" width="3" height="1" fill="#a8a8a8" shape-rendering="crispEdges"/>
<rect x="919" y="11" width="3" height="1" fill="#a8a8a8" shape-rendering="crispEdges"/>
<rect x="919" y="13" width="3" height="1" fill="#a8a8a8" shape-rendering="crispEdges"/>
<rect x="919" y="15" width="3" height="1" fill="#a8a8a8" shape-rendering="crispEdges"/>
<rect x="919" y="17" width="3" height="1" fill="#a8a8a8" shape-rendering="crispEdges"/>
<rect x="919" y="19" width="3" height="1" fill="#a8a8a8" shape-rendering="crispEdges"/>
<rect x="919" y="21" width="3" height="1" fill="#a8a8a8" shape-rendering="crispEdges"/>
<g shape-rendering="crispEdges"><rect x="1065" y="1" width="25" height="22" fill="url(#chk)"/><rect x="1065" y="1" width="25" height="1" fill="#a0a0a0"/><rect x="1065" y="1" width="1" height="22" fill="#a0a0a0"/><rect x="1065" y="22" width="25" height="1" fill="#fff"/><rect x="1089" y="1" width="1" height="22" fill="#fff"/></g>
<text x="937.0" y="16.6" text-anchor="middle" class="tf">M1</text>
<text x="965.1" y="16.6" text-anchor="middle" class="tf">M5</text>
<text x="993.2" y="16.6" text-anchor="middle" class="tf">M15</text>
<text x="1021.3" y="16.6" text-anchor="middle" class="tf">M30</text>
<text x="1049.4" y="16.6" text-anchor="middle" class="tf">H1</text>
<text x="1077.5" y="16.6" text-anchor="middle" class="tf">H4</text>
<text x="1105.6" y="16.6" text-anchor="middle" class="tf">D1</text>
<text x="1133.7" y="16.6" text-anchor="middle" class="tf">W1</text>
<text x="1161.8" y="16.6" text-anchor="middle" class="tf">MN</text>
<rect x="1176" y="0" width="1" height="24" fill="#a0a0a0" shape-rendering="crispEdges"/>
<line x1="1643.6" y1="13.4" x2="1638.8" y2="17.8" stroke="#2458c8" stroke-width="2.2" stroke-linecap="round"/><circle cx="1646.6" cy="10.4" r="3.7" fill="#f4f6ff" stroke="#2f68d8" stroke-width="1.2"/>
<path d="M1663.2,15 a5,4.2 0 1 1 5,4.6 q-1,0 -1.6,-0.2 l-1.4,2 l0.2,-2.6 q-2.2,-1.4 -2.2,-3.8z" fill="#e4e6f0" stroke="#b0b0b0" stroke-width="1"/><ellipse cx="1669" cy="22" rx="6" ry="0.7" fill="#d8d8d8"/>
<circle cx="1677.4" cy="10.4" r="8.3" fill="url(#badge)"/><text x="1676.3" y="14.4" text-anchor="middle" style="font-family:'Liberation Serif',serif;font-size:12.5px;fill:#fff" stroke="#fff" stroke-width="0.4">1</text>
</svg>
</body></html>
